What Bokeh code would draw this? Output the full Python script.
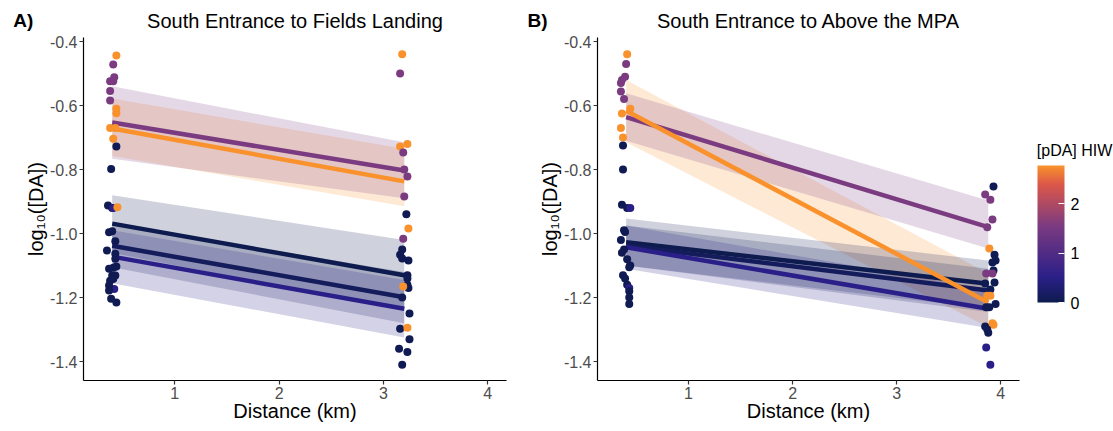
from bokeh.plotting import figure
from bokeh.models import (ColumnDataSource, LinearColorMapper, ColorBar, FixedTicker,
                          Label, Range1d)
from bokeh.layouts import row
from bokeh.embed import file_html
from bokeh.resources import INLINE
from bokeh.transform import linear_cmap

# ---------------- data ----------------
O, P, I, N = 2.78, 1.55, 0.5, 0.05   # [pDA] HIW values of the groups

panel_titles = ["South Entrance to Fields Landing", "South Entrance to Above the MPA"]
panel_tags = ["A)", "B)"]
legend_title = "[pDA] HIW"

y_ticks = [-1.4, -1.2, -1.0, -0.8, -0.6, -0.4]
y_tick_labels = ["-1.4", "-1.2", "-1.0", "-0.8", "-0.6", "-0.4"]
x_ticks = [1, 2, 3, 4]
x_tick_labels = ["1", "2", "3", "4"]
cbar_ticks = [0, 1, 2]

# Panel A points
a_dist = [0.44, 0.41, 0.42, 0.38, 0.41, 0.38, 0.38, 0.44, 0.44, 0.38, 0.43, 0.41, 0.44, 0.39,
          0.36, 0.40, 0.41, 0.45, 0.37, 0.40, 0.43, 0.35, 0.43, 0.43, 0.37, 0.41, 0.44, 0.40,
          0.43, 0.38, 0.41, 0.42, 0.37, 0.37, 0.39, 0.44,
          3.18, 3.16, 3.16, 3.23, 3.19, 3.20, 3.23, 3.20, 3.22, 3.24, 3.19, 3.18, 3.16, 3.18,
          3.24, 3.23, 3.23, 3.23, 3.24, 3.19, 3.18, 3.25, 3.16, 3.23, 3.25, 3.15, 3.23, 3.18]
a_logda = [-0.444, -0.472, -0.512, -0.524, -0.524, -0.555, -0.584, -0.610, -0.624, -0.670,
           -0.670, -0.704, -0.728, -0.798, -0.912, -0.920, -0.920, -0.918, -0.996, -0.993,
           -1.024, -1.053, -1.063, -1.079, -1.110, -1.107, -1.103, -1.131, -1.131, -1.147,
           -1.142, -1.173, -1.162, -1.178, -1.204, -1.215,
           -0.440, -0.500, -0.728, -0.720, -0.747, -0.800, -0.822, -0.884, -0.940, -0.984,
           -1.016, -1.050, -1.066, -1.078, -1.084, -1.130, -1.140, -1.160, -1.170, -1.165,
           -1.200, -1.250, -1.297, -1.294, -1.330, -1.360, -1.370, -1.410]
a_pda = [O, P, P, P, P, P, P, O, O, O, O, O, N, N, N, N, I, O, N, N, N, N, N, N, N, N, N, N,
         N, N, N, I, N, N, N, N,
         O, P, O, O, P, P, P, P, N, O, P, N, N, N, N, N, N, N, N, O, N, N, N, O, N, N, N, N]

# Panel B points
b_dist = [0.41, 0.40, 0.39, 0.36, 0.35, 0.35, 0.38, 0.44, 0.36, 0.35, 0.37, 0.37, 0.37, 0.36,
          0.41, 0.44, 0.38, 0.39, 0.35, 0.38, 0.36, 0.41, 0.44, 0.43, 0.37, 0.39, 0.41, 0.43,
          0.43, 0.43, 0.43,
          3.93, 3.85, 3.90, 3.92, 3.87, 3.89, 3.94, 3.95, 3.92, 3.93, 3.86, 3.92, 3.94, 3.85,
          3.90, 3.87, 3.90, 3.86, 3.89, 3.95, 3.92, 3.93, 3.85, 3.87, 3.88, 3.86, 3.90]
b_logda = [-0.440, -0.470, -0.510, -0.520, -0.530, -0.556, -0.580, -0.610, -0.625, -0.670,
           -0.700, -0.725, -0.800, -0.910, -0.920, -0.920, -0.990, -0.995, -1.020, -1.050,
           -1.060, -1.080, -1.100, -1.105, -1.130, -1.140, -1.160, -1.170, -1.180, -1.200,
           -1.220,
           -0.853, -0.878, -0.894, -0.956, -0.980, -1.047, -1.066, -1.084, -1.090, -1.115,
           -1.125, -1.125, -1.153, -1.156, -1.175, -1.194, -1.194, -1.230, -1.230, -1.220,
           -1.280, -1.285, -1.290, -1.300, -1.310, -1.356, -1.410]
b_pda = [O, P, P, P, P, P, P, O, O, O, O, N, N, N, N, I, N, N, N, N, N, N, N, N, N, N, N, I,
         N, N, N,
         N, P, P, P, P, O, N, N, N, N, P, P, N, N, N, O, O, N, N, N, O, O, N, N, N, I, I]

# Fitted regressions (orange, purple, navy 1, navy 2, indigo)
fit_pda = [2.78, 1.55, 0.0, 0.12, 0.5]

a_fit_x = [0.4, 3.2]
a_fit_start = [-0.672, -0.653, -0.969, -1.038, -1.072]
a_fit_end = [-0.837, -0.803, -1.130, -1.199, -1.235]
a_lo_start = [-0.758, -0.766, -1.060, -1.105, -1.155]
a_hi_start = [-0.578, -0.540, -0.880, -0.970, -0.990]
a_lo_end = [-0.915, -0.890, -1.240, -1.280, -1.325]
a_hi_end = [-0.735, -0.715, -1.020, -1.120, -1.145]

b_fit_x = [0.4, 3.88]
b_fit_start = [-0.616, -0.636, -1.027, -1.038, -1.043]
b_fit_end = [-1.215, -0.980, -1.157, -1.178, -1.235]
b_lo_start = [-0.715, -0.710, -1.100, -1.100, -1.110]
b_hi_start = [-0.520, -0.562, -0.953, -0.975, -0.975]
b_lo_end = [-1.293, -1.047, -1.235, -1.245, -1.295]
b_hi_end = [-1.125, -0.897, -1.084, -1.110, -1.175]

# ---------------- colour scale ----------------
c_low, c_high = 0.0, 2.78
stop_vals = [0.0, 0.5, 1.55, 2.4, 2.78]
stop_cols = ["#0E1B4E", "#2A1F88", "#7B3B81", "#DC574A", "#F9922C"]


def _rgb(h):
    return tuple(int(h[i:i + 2], 16) for i in (1, 3, 5))


def color_at(v):
    v = min(max(v, stop_vals[0]), stop_vals[-1])
    for k in range(len(stop_vals) - 1):
        if stop_vals[k] <= v <= stop_vals[k + 1]:
            t = (v - stop_vals[k]) / (stop_vals[k + 1] - stop_vals[k])
            a, b = _rgb(stop_cols[k]), _rgb(stop_cols[k + 1])
            return "#%02x%02x%02x" % tuple(round(a[j] + (b[j] - a[j]) * t) for j in range(3))
    return stop_cols[-1]


palette = [color_at(c_low + (c_high - c_low) * i / 255) for i in range(256)]
mapper = LinearColorMapper(palette=palette, low=c_low, high=c_high)

FONT = "Liberation Sans"
X_RANGE = (0.125, 4.18)
Y_RANGE = (-1.459, -0.3875)
PX_PER_X = 104.0
PX_PER_Y = 320.0


def make_panel(idx, width, bl, br, dist, logda, pda, fx, fs, fe, los, his, loe, hie):
    p = figure(width=width, height=431, x_range=Range1d(*X_RANGE),
               y_range=Range1d(*Y_RANGE), output_backend="svg",
               toolbar_location=None, min_border_left=bl, min_border_right=br,
               min_border_top=37, min_border_bottom=51, title=panel_titles[idx])
    p.background_fill_color = "white"
    p.border_fill_color = "white"
    p.outline_line_color = None
    p.xgrid.visible = False
    p.ygrid.visible = False
    p.title.align = "center"
    p.title.text_font = FONT
    p.title.text_font_size = "20px"
    p.title.text_font_style = "normal"
    p.title.text_color = "black"
    p.title.standoff = 12

    for ax in (p.xaxis[0], p.yaxis[0]):
        ax.axis_line_color = "black"
        ax.axis_line_width = 1.2
        ax.major_tick_line_color = "#333333"
        ax.major_tick_line_width = 1.2
        ax.major_tick_out = 4
        ax.major_tick_in = 0
        ax.minor_tick_line_color = None
        ax.major_label_text_font = FONT
        ax.major_label_text_font_size = "16px"
        ax.major_label_text_color = "#4D4D4D"
        ax.axis_label_text_font = FONT
        ax.axis_label_text_font_size = "20px"
        ax.axis_label_text_font_style = "normal"
        ax.axis_label_text_color = "black"
        ax.major_label_standoff = 2
    p.xaxis.ticker = FixedTicker(ticks=x_ticks)
    p.xaxis.major_label_overrides = {t: l for t, l in zip(x_ticks, x_tick_labels)}
    p.yaxis.ticker = FixedTicker(ticks=y_ticks)
    p.yaxis.major_label_overrides = {t: l for t, l in zip(y_ticks, y_tick_labels)}
    p.xaxis.axis_label = "Distance (km)"
    p.yaxis.axis_label = "log\u2081\u2080([DA])"
    p.xaxis.axis_label_standoff = -2
    p.yaxis.axis_label_standoff = 0

    for g in range(len(fit_pda)):
        c = color_at(fit_pda[g])
        p.varea(x=fx, y1=[los[g], loe[g]], y2=[his[g], hie[g]], fill_color=c, fill_alpha=0.2)
    for g in [2, 3, 4, 1, 0]:
        c = color_at(fit_pda[g])
        p.line(x=fx, y=[fs[g], fe[g]], line_color=c, line_width=4.5)

    src = ColumnDataSource(dict(x=dist, y=logda, v=pda))
    p.scatter("x", "y", source=src, size=8, line_color=None,
              fill_color=linear_cmap("v", palette, c_low, c_high))

    # panel tag "A)" / "B)": 70 px left of and 17 px above the frame's top-left corner
    tag = Label(x=X_RANGE[0] - 70 / PX_PER_X, y=Y_RANGE[1] + 17 / PX_PER_Y,
                text=panel_tags[idx], text_font=FONT, text_font_size="19px",
                text_font_style="bold", text_baseline="middle", text_align="left",
                text_color="black")
    p.add_layout(tag, "left")
    return p


pA = make_panel(0, 515, 83, 9, a_dist, a_logda, a_pda, a_fit_x, a_fit_start, a_fit_end,
                a_lo_start, a_hi_start, a_lo_end, a_hi_end)
pB = make_panel(1, 598, 82, 94, b_dist, b_logda, b_pda, b_fit_x, b_fit_start, b_fit_end,
                b_lo_start, b_hi_start, b_lo_end, b_hi_end)

cbar = ColorBar(color_mapper=mapper, width=27, height=137, padding=0, margin=0,
                location=(440, 78), ticker=FixedTicker(ticks=cbar_ticks),
                major_label_text_font=FONT, major_label_text_font_size="16px",
                major_label_text_color="black", label_standoff=6,
                major_tick_line_color="white", major_tick_in=6, major_tick_out=0,
                minor_tick_line_color=None, bar_line_color=None,
                border_line_color=None, background_fill_alpha=0)
pB.add_layout(cbar)

cb_title = Label(x=X_RANGE[0] + 439 / PX_PER_X, y=Y_RANGE[1] - 113 / PX_PER_Y,
                 text=legend_title, text_font=FONT, text_font_size="16px",
                 text_baseline="middle", text_align="left", text_color="black")
pB.add_layout(cb_title, "right")

layout = row(pA, pB)
open("out.html", "w").write(file_html(layout, INLINE))
